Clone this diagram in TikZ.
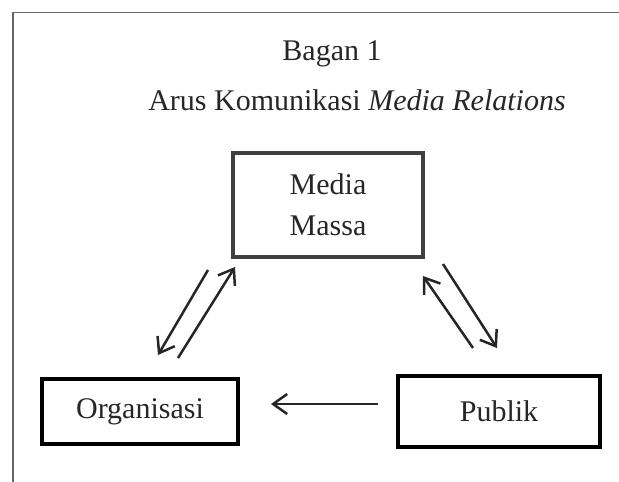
\documentclass[tikz,border=0pt]{standalone}
\usepackage{fontspec}
\setmainfont{Liberation Serif}
\usetikzlibrary{arrows.meta}
\begin{document}
\begin{tikzpicture}[x=1pt,y=-1pt,
  txt/.style={font=\fontsize{30}{41}\selectfont, text=black!85, inner sep=0pt},
  box/.style={draw, line width=4.5pt, inner sep=0pt, align=center,
    font=\fontsize{30}{41}\selectfont, text=black!85},
  flow/.style={line width=2.5pt, draw=black!85,
    -{Straight Barb[length=14pt,width=20pt,line width=2.5pt]}},
  ]
\useasboundingbox (0,0) rectangle (619,482);
\draw[line width=1.5pt, black!60] (13,482) -- (13,12.5) -- (619,12.5);
\node[txt, anchor=base] (title) at (332,60) {Bagan 1};
\node[txt, anchor=base] (subtitle) at (357,110) {Arus Komunikasi \textit{Media Relations}};
\node[box, draw=black!75, minimum width=190pt, minimum height=104pt] (media) at (328,205) {Media\\Massa};
\node[box, draw=black, minimum width=196pt, minimum height=65pt] (org) at (140,411.5) {Organisasi};
\node[box, draw=black, minimum width=202pt, minimum height=71pt] (pub) at (499,411.5) {Publik};
% free ends of the connectors
\coordinate (mo1) at (208,270);
\coordinate (mo2) at (158,355);
\coordinate (om1) at (178,358);
\coordinate (om2) at (235,267);
\coordinate (pm1) at (473,348);
\coordinate (pm2) at (423,276);
\coordinate (mp1) at (443,264);
\coordinate (mp2) at (497,348);
\coordinate (po1) at (378,404);
\coordinate (po2) at (271,404);
\draw[flow] (mo1) -- (mo2);
\draw[flow] (om1) -- (om2);
\draw[flow] (pm1) -- (pm2);
\draw[flow] (mp1) -- (mp2);
\draw[flow] (po1) -- (po2);
\end{tikzpicture}
\end{document}
